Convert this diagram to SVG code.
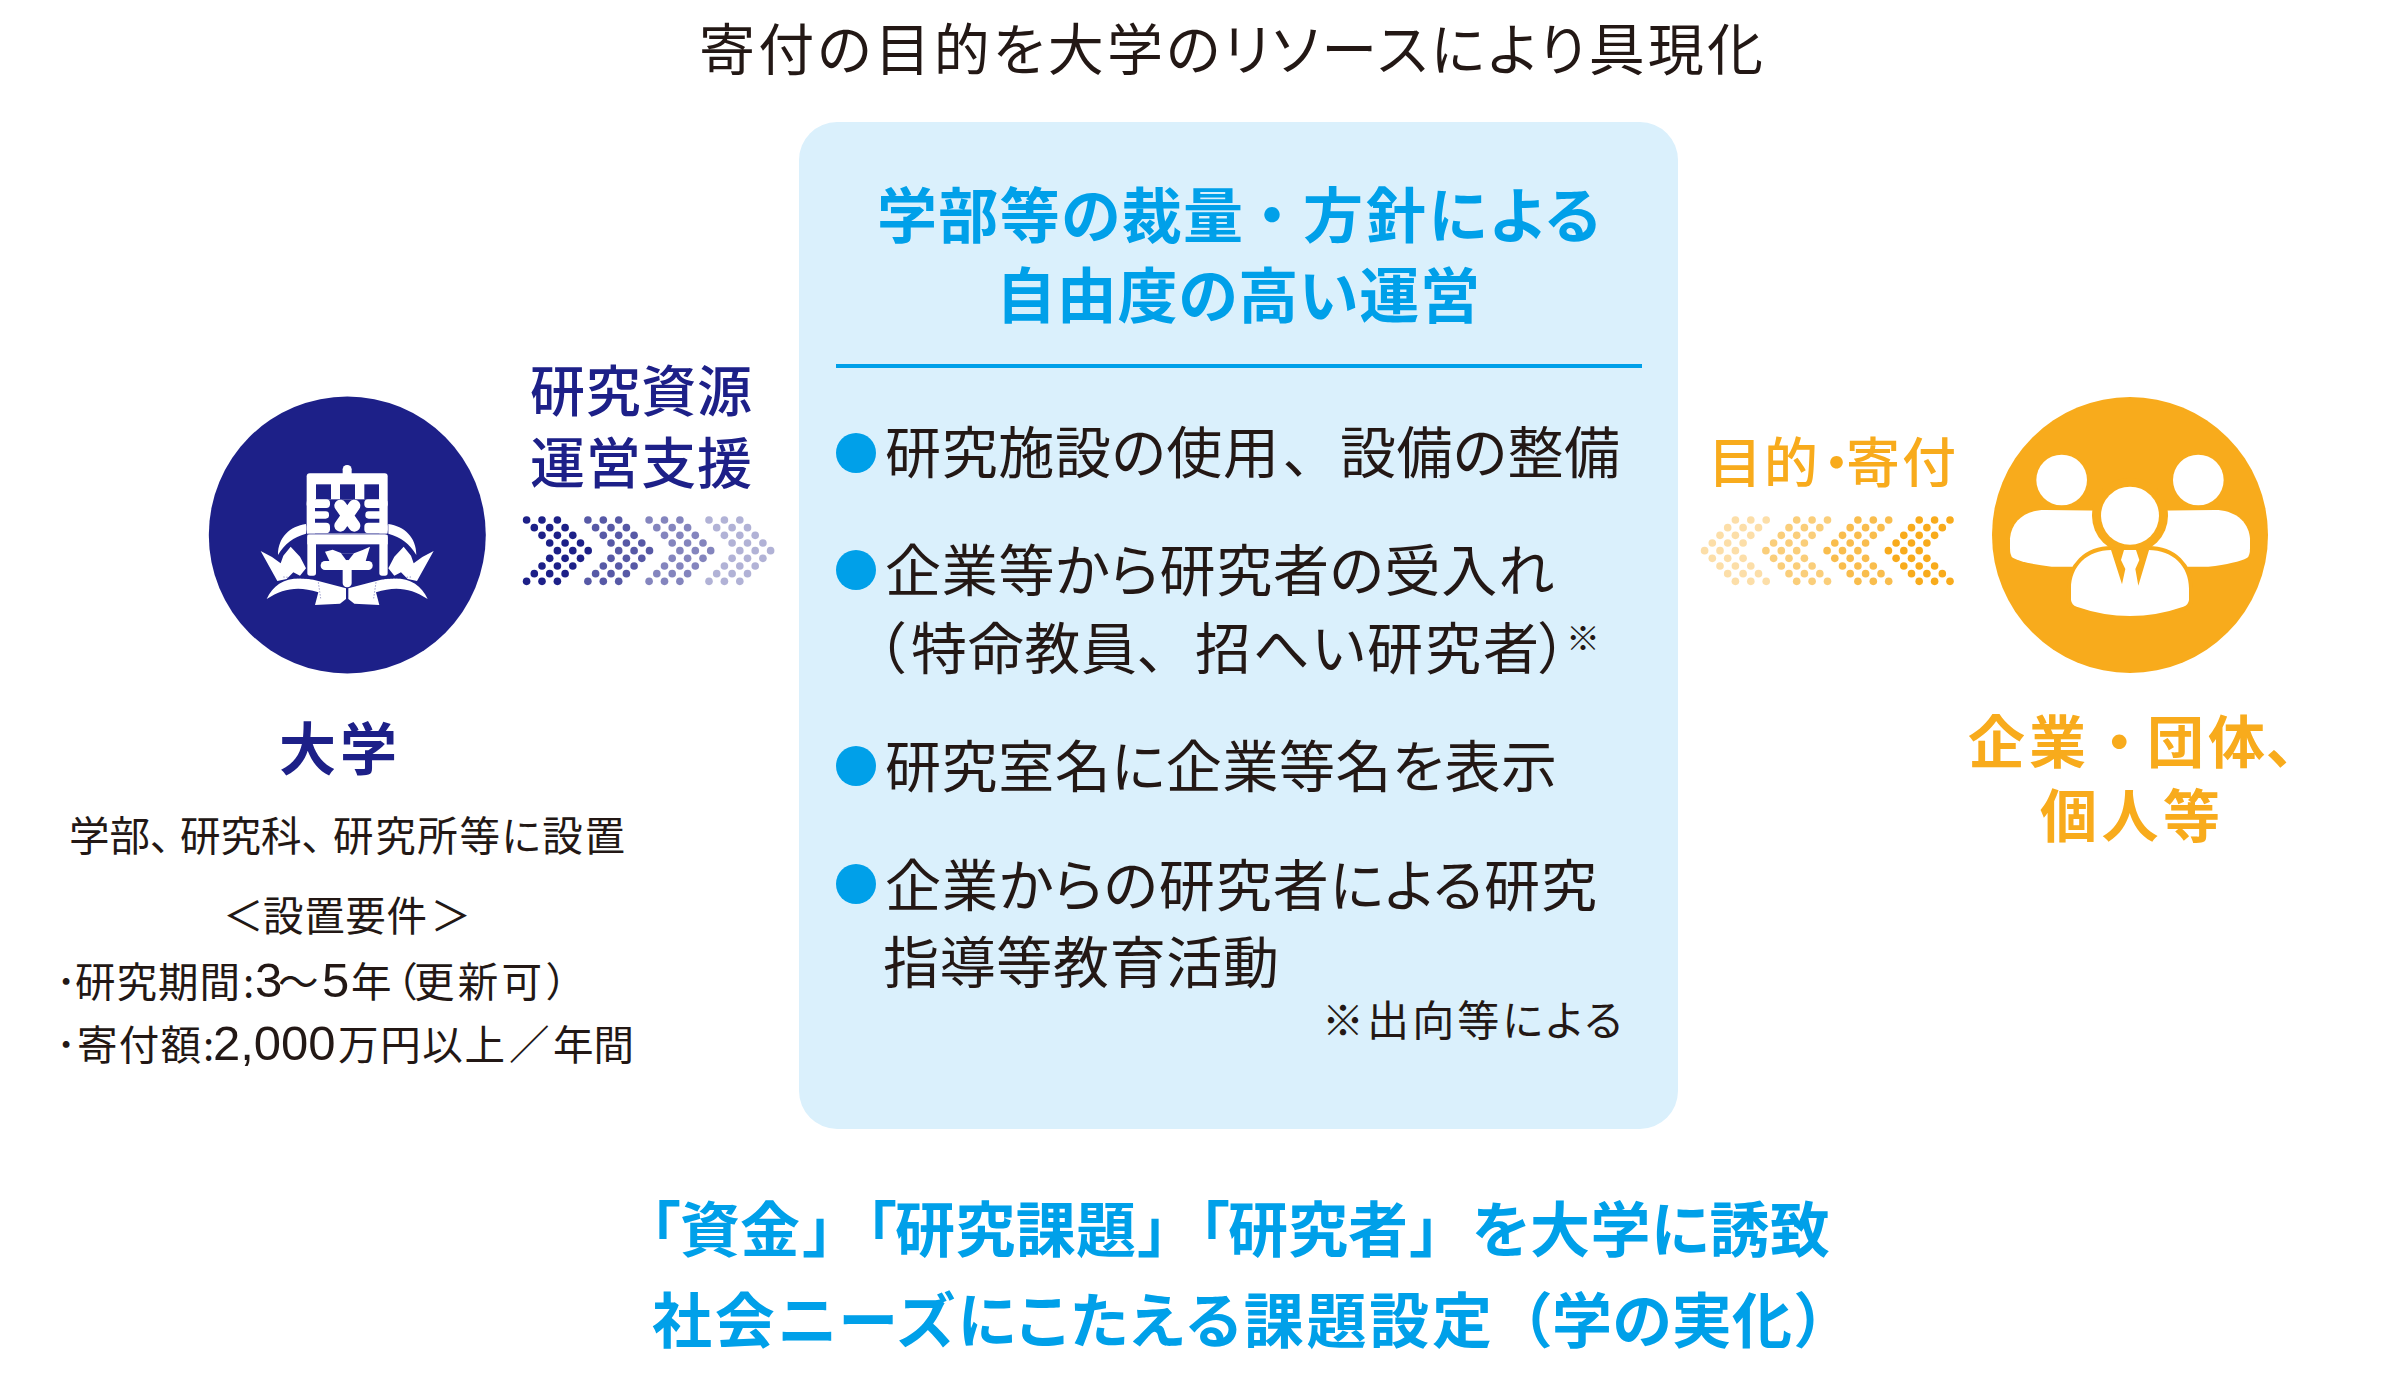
<svg xmlns="http://www.w3.org/2000/svg" xmlns:xlink="http://www.w3.org/1999/xlink" width="2381" height="1379" viewBox="0 0 2381 1379">
<style>
text{font-family:"Noto Sans CJK JP","Noto Sans",sans-serif;fill:#231815;font-feature-settings:"palt"}
.ttl{font-size:56px}
.item{font-size:56px}
.side{font-size:40.5px}
.dig{font-family:"Liberation Sans",Arial,sans-serif;font-size:49px}
.head{font-size:60px;font-weight:700;fill:#00a0e9}
.navy{font-weight:500;font-size:55px;fill:#1d2088}
.org{font-weight:700;font-size:57px;fill:#f8ab1c}
.w{fill:#fff}.n{fill:#1d2088}.o{fill:#f8ab1c}
</style>
<defs>
<g id="chev">
<circle cx="0" cy="0" r="3.8"/><circle cx="15.4" cy="0" r="3.8"/><circle cx="30.8" cy="0" r="3.8"/>
<circle cx="7.7" cy="7.67" r="3.8"/><circle cx="23.1" cy="7.67" r="3.8"/><circle cx="38.5" cy="7.67" r="3.8"/>
<circle cx="15.4" cy="15.34" r="3.8"/><circle cx="30.8" cy="15.34" r="3.8"/><circle cx="46.2" cy="15.34" r="3.8"/>
<circle cx="23.1" cy="23" r="3.8"/><circle cx="38.5" cy="23" r="3.8"/><circle cx="53.9" cy="23" r="3.8"/>
<circle cx="30.8" cy="30.67" r="3.8"/><circle cx="46.2" cy="30.67" r="3.8"/><circle cx="61.6" cy="30.67" r="3.8"/>
<circle cx="23.1" cy="38.34" r="3.8"/><circle cx="38.5" cy="38.34" r="3.8"/><circle cx="53.9" cy="38.34" r="3.8"/>
<circle cx="15.4" cy="46" r="3.8"/><circle cx="30.8" cy="46" r="3.8"/><circle cx="46.2" cy="46" r="3.8"/>
<circle cx="7.7" cy="53.67" r="3.8"/><circle cx="23.1" cy="53.67" r="3.8"/><circle cx="38.5" cy="53.67" r="3.8"/>
<circle cx="0" cy="61.34" r="3.8"/><circle cx="15.4" cy="61.34" r="3.8"/><circle cx="30.8" cy="61.34" r="3.8"/>
</g>
<g id="wreath">
<path class="w" d="M168,207C120,214 84,246 84,300C104,266 130,246 168,236Z"/>
<path class="w" d="M32,288L66,306L92,325L100,302L122,275L150,305L168,340L150,362L130,352L110,372L82,378Z"/>
<path class="w" d="M50,432C75,380 120,358 205,378L288,400L288,432L270,446L195,450L205,412C145,392 100,400 50,432Z"/>
<path d="M100,366L190,372M205,382L212,430" stroke="#1d2088" stroke-width="1.5" stroke-dasharray="4 5" fill="none"/>
</g>
<g id="sidebody" class="w"><path d="M105,195L300,197L300,365L125,365Q40,355 8,338Q0,332 0,310L0,280C5,225 50,195 105,195Z"/></g>
</defs>
<g id="title"><text class="ttl" x="699" y="70" textLength="1064">寄付の目的を大学のリソースにより具現化</text></g>

<g id="university">
<circle class="n" cx="347.3" cy="535" r="138.5"/>
<g id="emblem" transform="translate(250,455) scale(0.33333)">
<use xlink:href="#wreath" href="#wreath"/>
<use xlink:href="#wreath" href="#wreath" transform="translate(583,0) scale(-1,1)"/>
<rect class="w" x="278" y="30" width="27" height="40" rx="13"/>
<rect class="w" x="170" y="55" width="243" height="185" rx="9"/>
<rect class="n" x="198" y="88" width="45" height="45"/>
<rect class="n" x="270" y="88" width="45" height="45"/>
<rect class="n" x="343" y="88" width="44" height="45"/>
<rect class="n" x="195" y="133" width="193" height="102"/>
<g class="w">
<rect x="170" y="133" width="70" height="26" rx="11"/>
<rect x="185" y="169" width="52" height="22" rx="10"/>
<rect x="170" y="203" width="70" height="32" rx="12"/>
<rect x="343" y="133" width="70" height="26" rx="11"/>
<rect x="346" y="169" width="52" height="22" rx="10"/>
<rect x="343" y="203" width="70" height="32" rx="12"/>
</g>
<path d="M271,152L313,212M313,152L271,212" stroke="#fff" stroke-width="36" stroke-linecap="round" fill="none"/>
<rect class="w" x="172" y="240" width="241" height="28"/>
<rect class="n" x="172" y="236" width="241" height="2"/>
<rect class="w" x="172" y="240" width="26" height="122" rx="8"/>
<rect class="w" x="388" y="240" width="25" height="122" rx="8"/>
<path class="w" d="M225,290L248,284L275,295L312,295L338,285L360,275L346,322L240,322Z"/>
<path class="n" d="M273,295L312,295L292,320Z"/>
<rect class="w" x="212" y="318" width="156" height="27" rx="13"/>
<rect class="w" x="278" y="315" width="27" height="82" rx="13"/>
</g>
<text class="head" style="fill:#1d2088;font-size:57px" x="279" y="770" textLength="118">大学</text>
<text class="side"><tspan x="69" y="851">学部、</tspan><tspan x="180">研究科、</tspan><tspan x="333" textLength="292">研究所等に設置</tspan></text>
<text class="side" x="223" y="931">＜</text>
<text class="side" x="263" y="931" textLength="164">設置要件</text>
<text class="side" x="471" y="931" text-anchor="end">＞</text>
<text class="side"><tspan x="56" y="997">･</tspan><tspan x="75" textLength="165">研究期間</tspan><tspan x="243">:</tspan><tspan class="dig" x="255">3</tspan><tspan x="278">～</tspan><tspan class="dig" x="322">5</tspan><tspan x="351">年</tspan><tspan x="396">（</tspan><tspan x="414" textLength="128">更新可</tspan><tspan x="547">）</tspan></text>
<text class="side"><tspan x="56" y="1060">･</tspan><tspan x="77" textLength="124">寄付額</tspan><tspan x="203">:</tspan><tspan class="dig" x="213">2,000</tspan><tspan x="338" textLength="167">万円以上</tspan><tspan x="509">／</tspan><tspan x="553" textLength="81">年間</tspan></text>
</g>

<g id="panel">
<rect x="799" y="122" width="879" height="1007" rx="38" fill="#daf0fc"/>
<text class="head"><tspan x="877" y="238" textLength="366">学部等の裁量</tspan><tspan x="1257">・</tspan><tspan x="1303" textLength="297">方針による</tspan></text>
<text class="head" x="996" y="318" textLength="484">自由度の高い運営</text>
<rect x="836" y="364" width="806" height="4" fill="#00a0e9"/>
<g fill="#00a0e9"><circle cx="856" cy="453" r="20"/><circle cx="856" cy="570" r="20"/><circle cx="856" cy="766" r="20"/><circle cx="856" cy="884" r="20"/></g>
<text class="item"><tspan x="885" y="473" textLength="394">研究施設の使用</tspan><tspan x="1283">、</tspan><tspan x="1340" textLength="280">設備の整備</tspan></text>
<text class="item" x="885" y="591" textLength="669">企業等から研究者の受入れ</text>
<text class="item"><tspan x="877" y="669">（</tspan><tspan x="911" textLength="226">特命教員</tspan><tspan x="1137">、</tspan><tspan x="1195" textLength="344">招へい研究者</tspan><tspan x="1539">）</tspan></text>
<text class="item" style="font-size:34px" x="1566" y="651">※</text>
<text class="item" x="885" y="787" textLength="672">研究室名に企業等名を表示</text>
<text class="item" x="885" y="906" textLength="712">企業からの研究者による研究</text>
<text class="item" x="883" y="983" textLength="396">指導等教育活動</text>
<text class="item" style="font-size:42px" x="1322" y="1036" textLength="300">※出向等による</text>
</g>

<g id="donors">
<circle class="o" cx="2130" cy="535" r="138"/>
<g id="people" transform="translate(2010,445) scale(0.33333)">
<circle class="w" cx="155" cy="105" r="76"/>
<circle class="w" cx="565" cy="105" r="76"/>
<use xlink:href="#sidebody" href="#sidebody"/>
<use xlink:href="#sidebody" href="#sidebody" transform="translate(720,0) scale(-1,1)"/>
<circle class="o" cx="360" cy="212" r="114"/>
<path class="w" stroke="#f8ab1c" stroke-width="24" paint-order="stroke" d="M305,315C230,315 183,365 183,430L183,465Q185,480 200,485Q280,513 360,513Q440,513 520,485Q535,480 537,465L537,430C537,365 490,315 415,315Z"/>
<circle class="w" cx="360" cy="212" r="87"/>
<path class="o" d="M300,305L336,418L346,372L333,345L342,315ZM420,305L385,422L376,372L388,345L378,315Z"/>
</g>
<text class="org"><tspan x="1968" y="763" textLength="118">企業</tspan><tspan x="2105">・</tspan><tspan x="2147" textLength="118">団体</tspan><tspan x="2266">、</tspan></text>
<text class="org" x="2040" y="837" textLength="180">個人等</text>
</g>

<g id="connectors">
<g id="support">
<text class="navy" x="530" y="411" textLength="222">研究資源</text>
<text class="navy" x="530" y="483" textLength="222">運営支援</text>
<g class="n">
<use xlink:href="#chev" href="#chev" transform="translate(526.6,520)"/>
<use xlink:href="#chev" href="#chev" transform="translate(587.9,520)" opacity=".74"/>
<use xlink:href="#chev" href="#chev" transform="translate(649.1,520)" opacity=".54"/>
<use xlink:href="#chev" href="#chev" transform="translate(709,520)" opacity=".34"/>
</g>
</g>
<g id="donation">
<text class="org" style="font-size:54px;font-weight:500" x="1708" y="483" textLength="110">目的</text>
<text class="org" style="font-size:54px;font-weight:500" x="1823" y="483">・</text>
<text class="org" style="font-size:54px;font-weight:500" x="1846" y="483" textLength="110">寄付</text>
<g class="o">
<use xlink:href="#chev" href="#chev" transform="translate(1950,520) scale(-1,1)"/>
<use xlink:href="#chev" href="#chev" transform="translate(1888.7,520) scale(-1,1)" opacity=".78"/>
<use xlink:href="#chev" href="#chev" transform="translate(1827.5,520) scale(-1,1)" opacity=".58"/>
<use xlink:href="#chev" href="#chev" transform="translate(1766.2,520) scale(-1,1)" opacity=".38"/>
</g>
</g>
</g>

<g id="summary">
<text class="head"><tspan x="650" y="1252">「</tspan><tspan x="680" textLength="120">資金</tspan><tspan x="803">」</tspan><tspan x="866">「</tspan><tspan x="895" textLength="241">研究課題</tspan><tspan x="1138">」</tspan><tspan x="1199">「</tspan><tspan x="1228" textLength="180">研究者</tspan><tspan x="1410">」</tspan><tspan x="1472" textLength="358">を大学に誘致</tspan></text>
<text class="head"><tspan x="652" y="1343" textLength="840">社会ニーズにこたえる課題設定</tspan><tspan x="1520">（</tspan><tspan x="1552" textLength="240">学の実化</tspan><tspan x="1796">）</tspan></text>
</g>
</svg>
